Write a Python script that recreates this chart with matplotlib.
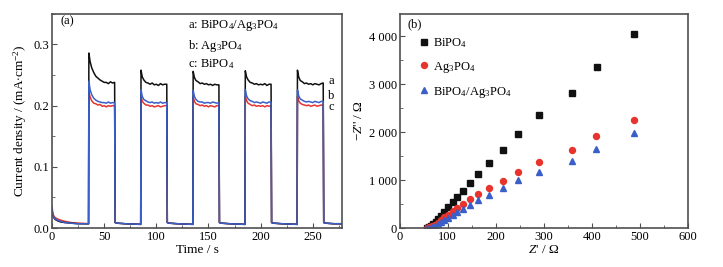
import numpy as np
import matplotlib.pyplot as plt
from matplotlib.ticker import MultipleLocator, FuncFormatter

plt.rcParams['font.family'] = ['Liberation Serif', 'DejaVu Serif']
plt.rcParams['mathtext.fontset'] = 'custom'
plt.rcParams['mathtext.rm'] = 'Liberation Serif'
plt.rcParams['mathtext.it'] = 'Liberation Serif:italic'

# (a) photocurrent vs time, light on/off cycles
t = [0, 0.5, 1, 2, 3, 5, 8, 12, 18, 25, 34.8,
     35, 35.3, 36.5, 38, 40, 42, 44, 46, 48, 50, 52, 54, 56, 58, 59.8,
     60, 60.5, 62, 70, 84.8,
     85, 85.3, 86.5, 88, 90, 92, 94, 96, 98, 100, 102, 104, 106, 108, 109.8,
     110, 110.5, 112, 120, 134.8,
     135, 135.3, 136.5, 138, 140, 142, 144, 146, 148, 150, 152, 154, 156, 158, 159.8,
     160, 160.5, 162, 170, 184.8,
     185, 185.3, 186.5, 188, 190, 192, 194, 196, 198, 200, 202, 204, 206, 208, 209.8,
     210, 210.5, 212, 220, 234.8,
     235, 235.3, 236.5, 238, 240, 242, 244, 246, 248, 250, 252, 254, 256, 258, 259.8,
     260, 260.5, 262, 270, 280]

j_a = [0.030, 0.022, 0.019, 0.016, 0.014, 0.012, 0.010, 0.009, 0.008, 0.007, 0.007,
       0.007, 0.286, 0.272, 0.262, 0.254, 0.248, 0.245, 0.242, 0.240, 0.238, 0.238, 0.236, 0.239, 0.237, 0.238,
       0.238, 0.009, 0.008, 0.007, 0.006,
       0.006, 0.258, 0.247, 0.242, 0.238, 0.237, 0.235, 0.237, 0.234, 0.235, 0.233, 0.236, 0.234, 0.235, 0.235,
       0.235, 0.009, 0.008, 0.007, 0.006,
       0.006, 0.256, 0.246, 0.241, 0.239, 0.236, 0.237, 0.235, 0.236, 0.234, 0.235, 0.233, 0.235, 0.234, 0.234,
       0.234, 0.009, 0.008, 0.007, 0.006,
       0.006, 0.257, 0.247, 0.242, 0.238, 0.237, 0.235, 0.236, 0.234, 0.235, 0.234, 0.236, 0.233, 0.235, 0.235,
       0.235, 0.009, 0.008, 0.007, 0.006,
       0.006, 0.258, 0.247, 0.241, 0.239, 0.236, 0.237, 0.235, 0.236, 0.234, 0.236, 0.235, 0.234, 0.236, 0.237,
       0.237, 0.009, 0.008, 0.007, 0.007]

j_b = [0.033, 0.024, 0.020, 0.017, 0.015, 0.013, 0.011, 0.009, 0.008, 0.007, 0.007,
       0.007, 0.240, 0.226, 0.218, 0.212, 0.209, 0.207, 0.206, 0.205, 0.205, 0.204, 0.206, 0.204, 0.205, 0.205,
       0.205, 0.009, 0.008, 0.007, 0.006,
       0.006, 0.226, 0.215, 0.210, 0.208, 0.206, 0.205, 0.206, 0.204, 0.205, 0.204, 0.206, 0.204, 0.205, 0.205,
       0.205, 0.009, 0.008, 0.007, 0.006,
       0.006, 0.225, 0.215, 0.210, 0.207, 0.206, 0.206, 0.204, 0.205, 0.205, 0.204, 0.206, 0.205, 0.204, 0.205,
       0.205, 0.009, 0.008, 0.007, 0.006,
       0.006, 0.226, 0.216, 0.211, 0.208, 0.207, 0.205, 0.206, 0.205, 0.204, 0.206, 0.205, 0.204, 0.206, 0.206,
       0.206, 0.009, 0.008, 0.007, 0.006,
       0.006, 0.226, 0.216, 0.211, 0.209, 0.207, 0.206, 0.207, 0.206, 0.205, 0.207, 0.206, 0.205, 0.207, 0.207,
       0.207, 0.009, 0.008, 0.007, 0.007]

j_c = [0.035, 0.026, 0.022, 0.019, 0.017, 0.015, 0.013, 0.011, 0.009, 0.008, 0.007,
       0.007, 0.222, 0.214, 0.208, 0.204, 0.203, 0.201, 0.202, 0.199, 0.200, 0.198, 0.200, 0.199, 0.200, 0.200,
       0.200, 0.009, 0.008, 0.007, 0.006,
       0.006, 0.215, 0.207, 0.204, 0.201, 0.201, 0.199, 0.200, 0.198, 0.199, 0.200, 0.198, 0.199, 0.200, 0.200,
       0.200, 0.009, 0.008, 0.007, 0.006,
       0.006, 0.214, 0.207, 0.203, 0.202, 0.200, 0.201, 0.199, 0.200, 0.198, 0.200, 0.199, 0.198, 0.200, 0.200,
       0.200, 0.009, 0.008, 0.007, 0.006,
       0.006, 0.215, 0.208, 0.204, 0.202, 0.200, 0.201, 0.199, 0.200, 0.199, 0.200, 0.198, 0.200, 0.199, 0.200,
       0.200, 0.009, 0.008, 0.007, 0.006,
       0.006, 0.215, 0.208, 0.204, 0.202, 0.201, 0.200, 0.201, 0.199, 0.200, 0.201, 0.199, 0.200, 0.201, 0.201,
       0.201, 0.009, 0.008, 0.007, 0.007]

# (b) Nyquist plots
z_bi = [56, 60, 65, 70, 75, 80, 85, 92, 100, 110, 120, 132, 147, 163, 186, 215, 247, 291, 360, 412, 489]
zz_bi = [2, 15, 40, 80, 130, 190, 260, 340, 430, 536, 640, 779, 932, 1127, 1357, 1628, 1955, 2351, 2817, 3367, 4056]
z_ag = [56, 61, 67, 73, 79, 85, 92, 100, 110, 120, 132, 147, 163, 186, 215, 247, 291, 360, 410, 489]
zz_ag = [2, 12, 35, 70, 110, 160, 220, 280, 350, 417, 508, 605, 716, 835, 988, 1169, 1377, 1628, 1913, 2261]
z_cp = [56, 61, 67, 73, 79, 85, 92, 100, 110, 120, 132, 147, 163, 186, 215, 247, 291, 360, 410, 489]
zz_cp = [1, 8, 25, 50, 80, 120, 165, 215, 270, 327, 403, 487, 584, 696, 828, 995, 1176, 1405, 1649, 1983]

black = '#111111'
blue = '#3a5fc8'
red = '#e8342c'
spine_c = '#505050'

fig = plt.figure(figsize=(7.23, 2.67), dpi=100)
ax1 = fig.add_axes([0.072, 0.146, 0.401, 0.802])
ax2 = fig.add_axes([0.553, 0.146, 0.398, 0.802])

ax1.plot(t, j_c, color=red, lw=1.1)
ax1.plot(t, j_a, color=black, lw=1.1)
ax1.plot(t, j_b, color=blue, lw=1.1)
ax1.set_xlim(0, 278)
ax1.set_ylim(0, 0.35)
ax1.xaxis.set_major_locator(MultipleLocator(50))
ax1.xaxis.set_minor_locator(MultipleLocator(25))
ax1.yaxis.set_major_locator(MultipleLocator(0.1))
ax1.yaxis.set_minor_locator(MultipleLocator(0.05))
ax1.yaxis.set_major_formatter(FuncFormatter(lambda v, p: '%.1f' % v))
ax1.set_xlabel('Time / s', fontsize=9.5, labelpad=1)
ax1.set_ylabel('Current density / (mA$\\cdot$cm$^{-2}$)', fontsize=9.5, labelpad=3)
ax1.text(8, 0.333, '(a)', fontsize=9)
ax1.text(130, 0.327, 'a: BiPO$_4$/Ag$_3$PO$_4$', fontsize=9)
ax1.text(130, 0.292, 'b: Ag$_3$PO$_4$', fontsize=9)
ax1.text(130, 0.263, 'c: BiPO$_4$', fontsize=9)
ax1.text(265, 0.241, 'a', fontsize=9, va='center')
ax1.text(265, 0.216, 'b', fontsize=9, va='center')
ax1.text(265, 0.197, 'c', fontsize=9, va='center')

ax2.plot(z_bi, zz_bi, 's', color=black, ms=4, label='BiPO$_4$')
ax2.plot(z_ag, zz_ag, 'o', color=red, ms=4.3, label='Ag$_3$PO$_4$')
ax2.plot(z_cp, zz_cp, '^', color=blue, ms=4.5, label='BiPO$_4$/Ag$_3$PO$_4$')
ax2.set_xlim(0, 600)
ax2.set_ylim(0, 4470)
ax2.xaxis.set_major_locator(MultipleLocator(100))
ax2.xaxis.set_minor_locator(MultipleLocator(50))
ax2.yaxis.set_major_locator(MultipleLocator(1000))
ax2.yaxis.set_minor_locator(MultipleLocator(500))
ax2.yaxis.set_major_formatter(FuncFormatter(
    lambda v, p: ('%d %03d' % (v // 1000, v % 1000)) if v >= 1000 else '%d' % v))
ax2.set_xlabel("$Z$' / Ω", fontsize=9.5, labelpad=1)
ax2.set_ylabel("$-Z$'' / Ω", fontsize=9.5, labelpad=3)
ax2.text(15, 4180, '(b)', fontsize=9)
ax2.legend(loc='upper left', bbox_to_anchor=(0.04, 0.92), frameon=False, fontsize=9,
           handletextpad=0.1, labelspacing=0.8, handlelength=1.2, borderaxespad=0)

for ax in (ax1, ax2):
    for s in ax.spines.values():
        s.set_color(spine_c)
        s.set_linewidth(1.2)
    ax.tick_params(which='both', direction='in', top=False, right=False,
                   labelsize=9, color=spine_c, pad=2)
    ax.tick_params(which='major', length=3.5)
    ax.tick_params(which='minor', length=2)

fig.savefig('out.png', dpi=100)
